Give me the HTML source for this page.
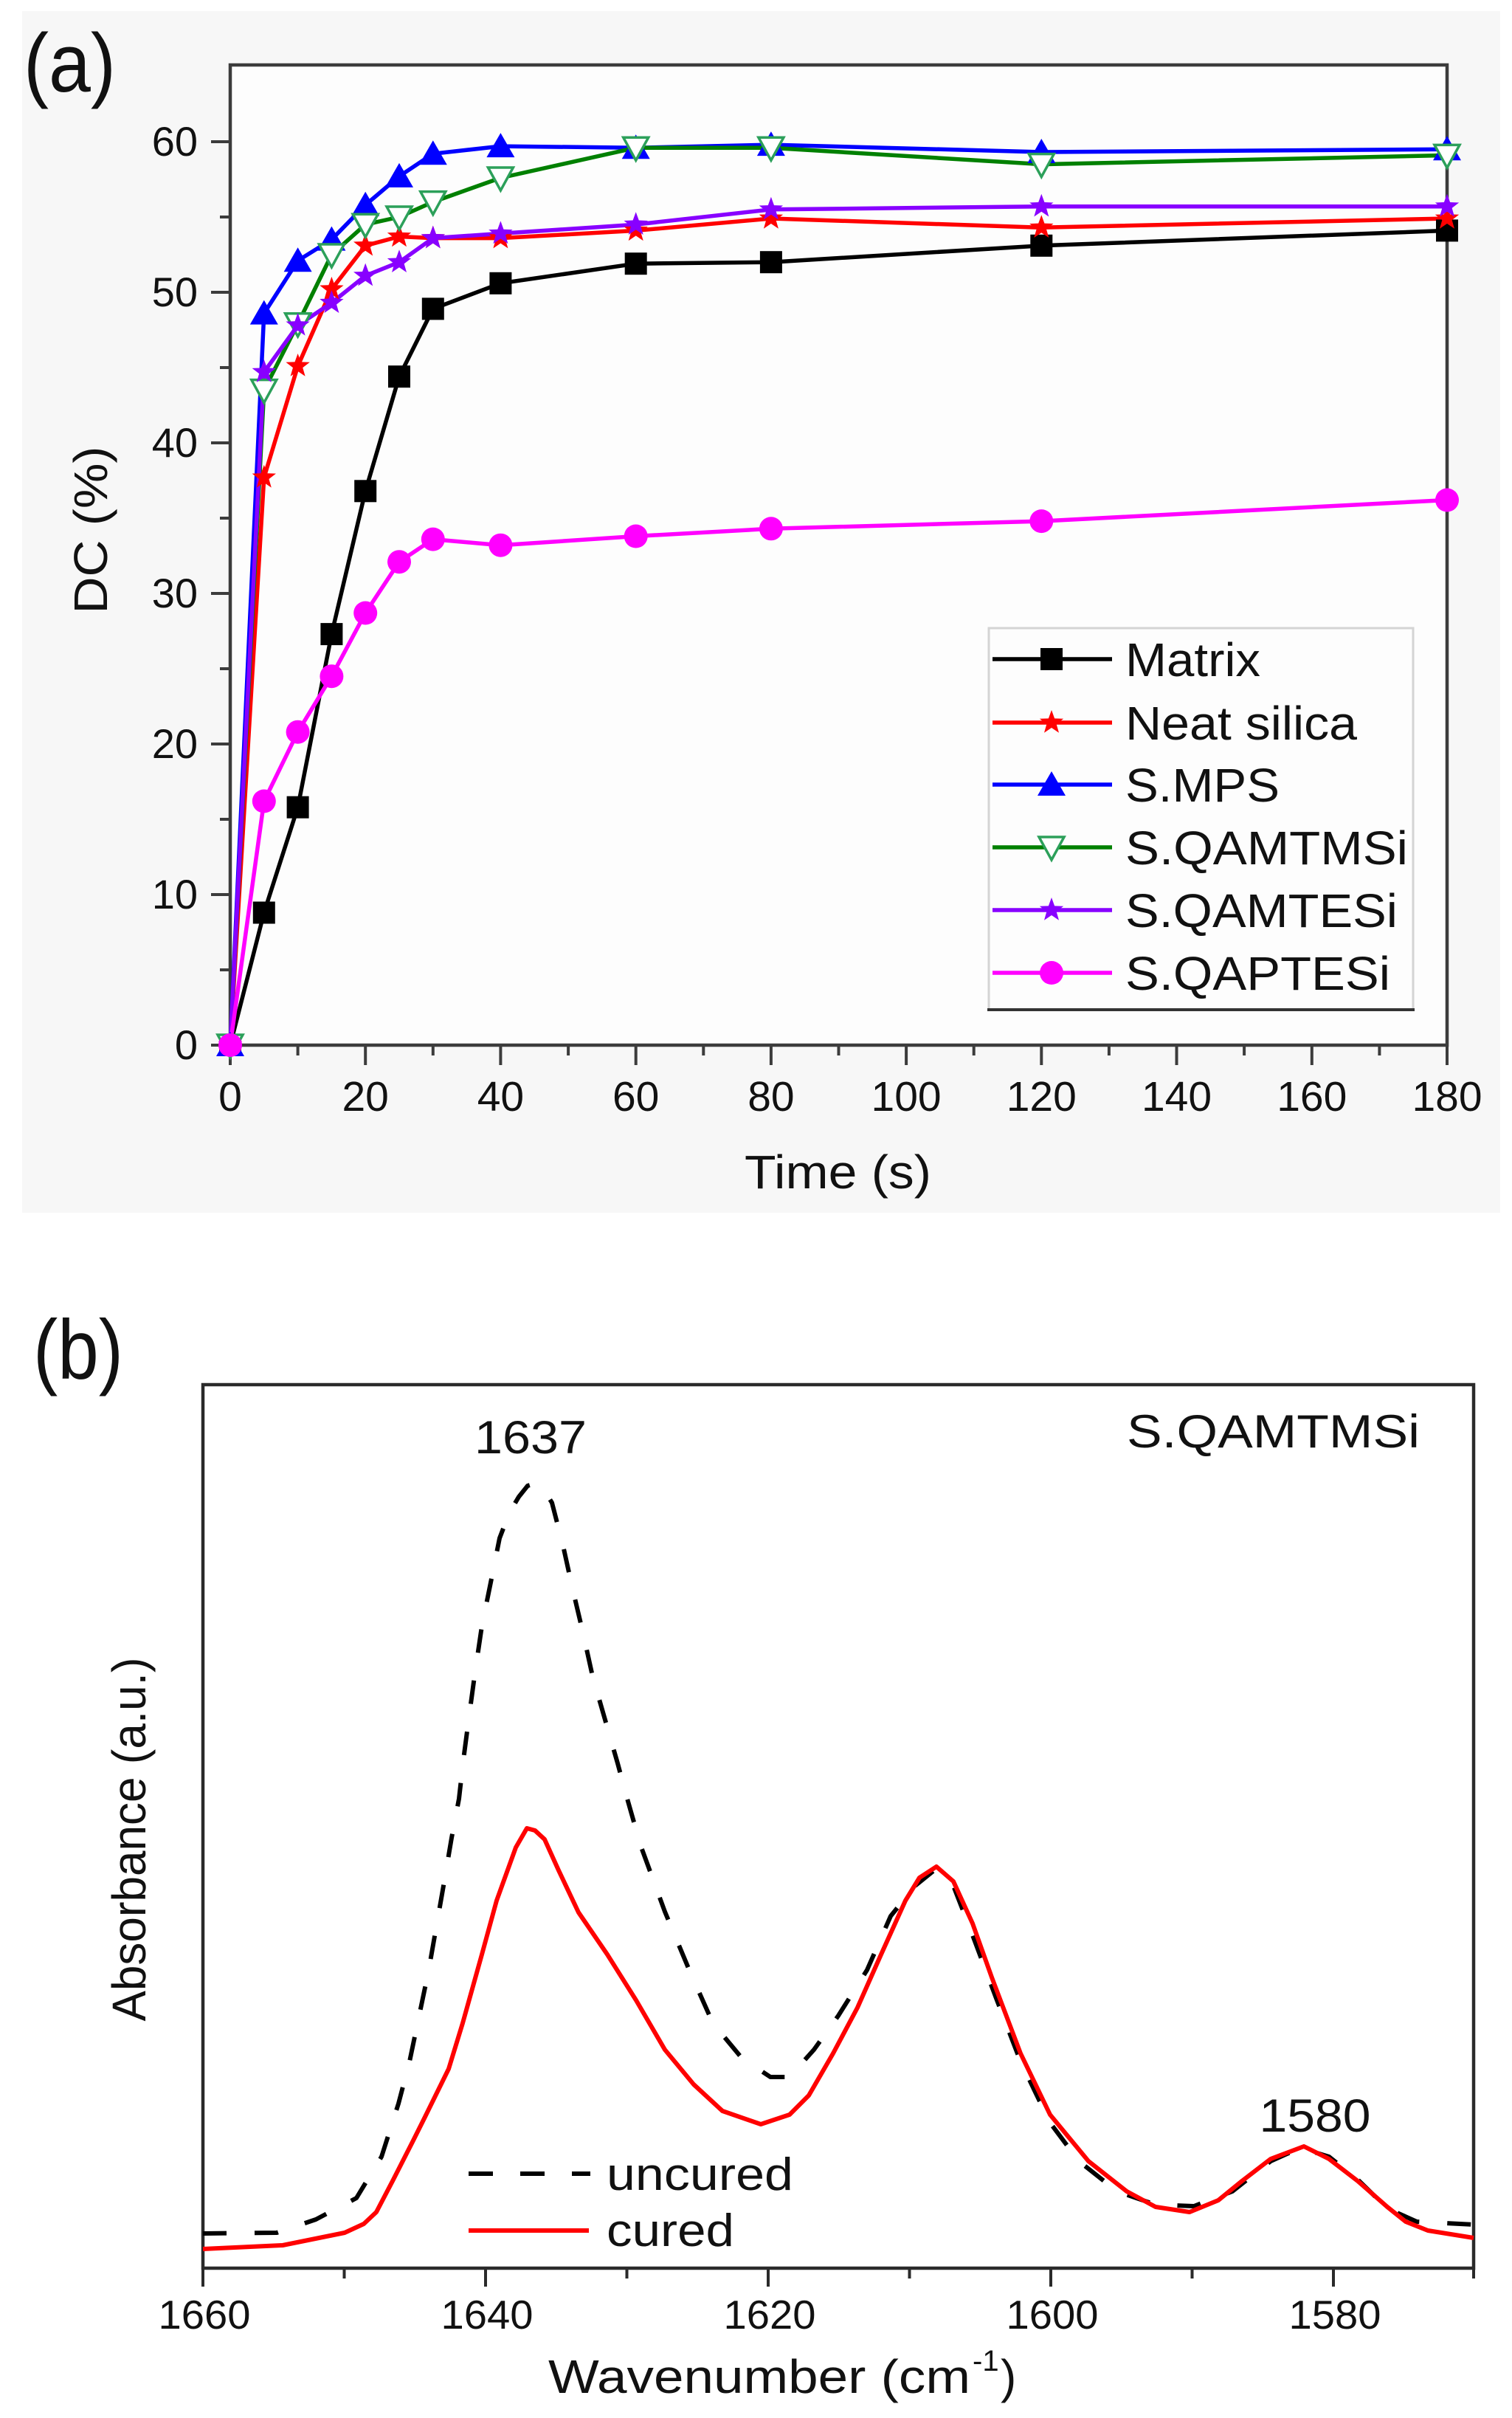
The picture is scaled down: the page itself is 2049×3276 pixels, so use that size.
<!DOCTYPE html>
<html>
<head>
<meta charset="utf-8">
<style>
html,body{margin:0;padding:0;background:#ffffff;}
svg{display:block;}
text{font-family:"Liberation Sans",Arial,sans-serif;fill:#111;}
</style>
</head>
<body>
<svg width="2049" height="3276" viewBox="0 0 2049 3276" xmlns="http://www.w3.org/2000/svg">
<defs>
  <rect id="sq" x="-15" y="-15" width="30" height="30"/>
  <polygon id="star" points="0,-17 4.11,-5.66 16.17,-5.25 6.66,2.16 9.99,13.75 0,7 -9.99,13.75 -6.66,2.16 -16.17,-5.25 -4.11,-5.66"/>
  <polygon id="tri" points="0,-18 19,15 -19,15"/>
  <polygon id="tdn" points="-17,-14 17,-14 0,17" fill="#ffffff" stroke="#2ca05a" stroke-width="3.5"/>
  <circle id="cir" r="16"/>
</defs>

<!-- ================= PANEL (a) ================= -->
<rect x="30" y="15" width="2003" height="1628" fill="#f7f7f7"/>
<rect x="312" y="88" width="1649" height="1328" fill="#fdfdfd"/>

<text x="32" y="124" font-size="112" textLength="125" lengthAdjust="spacingAndGlyphs">(a)</text>

<!-- legend box -->
<rect x="1340" y="851" width="575" height="517" fill="#fdfdfd" stroke="#d4d4d4" stroke-width="3"/>
<line x1="1338" y1="1368" x2="1917" y2="1368" stroke="#333" stroke-width="4"/>

<!-- frame -->
<rect x="312" y="88" width="1649" height="1328" fill="none" stroke="#3c3c3c" stroke-width="4.5"/>

<!-- y ticks -->
<g stroke="#3c3c3c" stroke-width="4">
  <line x1="286" y1="1416" x2="312" y2="1416"/>
  <line x1="286" y1="1212" x2="312" y2="1212"/>
  <line x1="286" y1="1008" x2="312" y2="1008"/>
  <line x1="286" y1="804" x2="312" y2="804"/>
  <line x1="286" y1="600" x2="312" y2="600"/>
  <line x1="286" y1="396" x2="312" y2="396"/>
  <line x1="286" y1="192" x2="312" y2="192"/>
  <line x1="298" y1="1314" x2="312" y2="1314"/>
  <line x1="298" y1="1110" x2="312" y2="1110"/>
  <line x1="298" y1="906" x2="312" y2="906"/>
  <line x1="298" y1="702" x2="312" y2="702"/>
  <line x1="298" y1="498" x2="312" y2="498"/>
  <line x1="298" y1="294" x2="312" y2="294"/>
  <!-- x ticks -->
  <line x1="312" y1="1416" x2="312" y2="1443"/>
  <line x1="495.2" y1="1416" x2="495.2" y2="1443"/>
  <line x1="678.4" y1="1416" x2="678.4" y2="1443"/>
  <line x1="861.7" y1="1416" x2="861.7" y2="1443"/>
  <line x1="1044.9" y1="1416" x2="1044.9" y2="1443"/>
  <line x1="1228.1" y1="1416" x2="1228.1" y2="1443"/>
  <line x1="1411.3" y1="1416" x2="1411.3" y2="1443"/>
  <line x1="1594.5" y1="1416" x2="1594.5" y2="1443"/>
  <line x1="1777.8" y1="1416" x2="1777.8" y2="1443"/>
  <line x1="1961" y1="1416" x2="1961" y2="1443"/>
  <line x1="403.6" y1="1416" x2="403.6" y2="1430"/>
  <line x1="586.8" y1="1416" x2="586.8" y2="1430"/>
  <line x1="770.1" y1="1416" x2="770.1" y2="1430"/>
  <line x1="953.3" y1="1416" x2="953.3" y2="1430"/>
  <line x1="1136.5" y1="1416" x2="1136.5" y2="1430"/>
  <line x1="1319.7" y1="1416" x2="1319.7" y2="1430"/>
  <line x1="1502.9" y1="1416" x2="1502.9" y2="1430"/>
  <line x1="1686.1" y1="1416" x2="1686.1" y2="1430"/>
  <line x1="1869.4" y1="1416" x2="1869.4" y2="1430"/>
</g>

<!-- y tick labels -->
<g font-size="56" text-anchor="end">
  <text x="268" y="1435">0</text>
  <text x="268" y="1231">10</text>
  <text x="268" y="1027">20</text>
  <text x="268" y="823">30</text>
  <text x="268" y="619">40</text>
  <text x="268" y="415">50</text>
  <text x="268" y="211">60</text>
</g>
<!-- x tick labels -->
<g font-size="57" text-anchor="middle">
  <text x="312" y="1505">0</text>
  <text x="495.2" y="1505">20</text>
  <text x="678.4" y="1505">40</text>
  <text x="861.7" y="1505">60</text>
  <text x="1044.9" y="1505">80</text>
  <text x="1228.1" y="1505">100</text>
  <text x="1411.3" y="1505">120</text>
  <text x="1594.5" y="1505">140</text>
  <text x="1777.8" y="1505">160</text>
  <text x="1961" y="1505">180</text>
</g>

<text x="1009" y="1610" font-size="64" textLength="253" lengthAdjust="spacingAndGlyphs">Time (s)</text>
<text x="145" y="718" font-size="64" text-anchor="middle" transform="rotate(-90 145 718)" textLength="227" lengthAdjust="spacingAndGlyphs">DC (%)</text>

<!-- series lines -->
<g fill="none" stroke-width="5.5" stroke-linejoin="round">
  <polyline stroke="#000000" points="312,1416 357.8,1236.5 403.6,1093.7 449.4,859.1 495.2,665.3 541,510.2 586.8,418.4 678.4,383.8 861.7,357.2 1044.9,355.2 1411.3,332.8 1961,312.4"/>
  <polyline stroke="#ff0000" points="312,1416 357.8,646.9 403.6,496 449.4,391.9 495.2,332.8 541,320.5 586.8,322.6 678.4,322.6 861.7,312.4 1044.9,296 1411.3,308.3 1961,296"/>
  <polyline stroke="#0000ff" points="312,1416 357.8,424.6 403.6,353.2 449.4,324.6 495.2,277.7 541,238.9 586.8,208.3 678.4,198.1 861.7,200.2 1044.9,196.1 1411.3,206 1961,202.2"/>
  <polyline stroke="#008000" points="312,1416 357.8,528.6 403.6,438.8 449.4,345 495.2,304.2 541,294 586.8,273.6 678.4,241 861.7,200.2 1044.9,200.2 1411.3,222.6 1961,210.4"/>
  <polyline stroke="#8800ff" points="312,1416 357.8,504.1 403.6,440.9 449.4,410.3 495.2,373.6 541,355.2 586.8,322.6 678.4,316.4 861.7,304.2 1044.9,283.8 1411.3,279.7 1961,279.7"/>
  <polyline stroke="#ff00ff" points="312,1416 357.8,1085.5 403.6,991.7 449.4,916.2 495.2,830.5 541,761.2 586.8,730.6 678.4,738.7 861.7,726.5 1044.9,716.3 1411.3,706.1 1961,677.5"/>
</g>

<!-- markers -->
<g fill="#000000">
  <use href="#sq" x="312" y="1416"/><use href="#sq" x="357.8" y="1236.5"/><use href="#sq" x="403.6" y="1093.7"/><use href="#sq" x="449.4" y="859.1"/><use href="#sq" x="495.2" y="665.3"/><use href="#sq" x="541" y="510.2"/><use href="#sq" x="586.8" y="418.4"/><use href="#sq" x="678.4" y="383.8"/><use href="#sq" x="861.7" y="357.2"/><use href="#sq" x="1044.9" y="355.2"/><use href="#sq" x="1411.3" y="332.8"/><use href="#sq" x="1961" y="312.4"/>
</g>
<g fill="#ff0000">
  <use href="#star" x="312" y="1416"/><use href="#star" x="357.8" y="646.9"/><use href="#star" x="403.6" y="496"/><use href="#star" x="449.4" y="391.9"/><use href="#star" x="495.2" y="332.8"/><use href="#star" x="541" y="320.5"/><use href="#star" x="586.8" y="322.6"/><use href="#star" x="678.4" y="322.6"/><use href="#star" x="861.7" y="312.4"/><use href="#star" x="1044.9" y="296"/><use href="#star" x="1411.3" y="308.3"/><use href="#star" x="1961" y="296"/>
</g>
<g fill="#0000ff">
  <use href="#tri" x="312" y="1416"/><use href="#tri" x="357.8" y="424.6"/><use href="#tri" x="403.6" y="353.2"/><use href="#tri" x="449.4" y="324.6"/><use href="#tri" x="495.2" y="277.7"/><use href="#tri" x="541" y="238.9"/><use href="#tri" x="586.8" y="208.3"/><use href="#tri" x="678.4" y="198.1"/><use href="#tri" x="861.7" y="200.2"/><use href="#tri" x="1044.9" y="196.1"/><use href="#tri" x="1411.3" y="206"/><use href="#tri" x="1961" y="202.2"/>
</g>
<g>
  <use href="#tdn" x="312" y="1416"/><use href="#tdn" x="357.8" y="528.6"/><use href="#tdn" x="403.6" y="438.8"/><use href="#tdn" x="449.4" y="345"/><use href="#tdn" x="495.2" y="304.2"/><use href="#tdn" x="541" y="294"/><use href="#tdn" x="586.8" y="273.6"/><use href="#tdn" x="678.4" y="241"/><use href="#tdn" x="861.7" y="200.2"/><use href="#tdn" x="1044.9" y="200.2"/><use href="#tdn" x="1411.3" y="222.6"/><use href="#tdn" x="1961" y="210.4"/>
</g>
<g fill="#8800ff">
  <use href="#star" x="312" y="1416"/><use href="#star" x="357.8" y="504.1"/><use href="#star" x="403.6" y="440.9"/><use href="#star" x="449.4" y="410.3"/><use href="#star" x="495.2" y="373.6"/><use href="#star" x="541" y="355.2"/><use href="#star" x="586.8" y="322.6"/><use href="#star" x="678.4" y="316.4"/><use href="#star" x="861.7" y="304.2"/><use href="#star" x="1044.9" y="283.8"/><use href="#star" x="1411.3" y="279.7"/><use href="#star" x="1961" y="279.7"/>
</g>
<g fill="#ff00ff">
  <use href="#cir" x="312" y="1416"/><use href="#cir" x="357.8" y="1085.5"/><use href="#cir" x="403.6" y="991.7"/><use href="#cir" x="449.4" y="916.2"/><use href="#cir" x="495.2" y="830.5"/><use href="#cir" x="541" y="761.2"/><use href="#cir" x="586.8" y="730.6"/><use href="#cir" x="678.4" y="738.7"/><use href="#cir" x="861.7" y="726.5"/><use href="#cir" x="1044.9" y="716.3"/><use href="#cir" x="1411.3" y="706.1"/><use href="#cir" x="1961" y="677.5"/>
</g>

<!-- legend entries -->
<g stroke-width="5.5">
  <line x1="1345" y1="893" x2="1507" y2="893" stroke="#000"/>
  <line x1="1345" y1="979" x2="1507" y2="979" stroke="#ff0000"/>
  <line x1="1345" y1="1063" x2="1507" y2="1063" stroke="#0000ff"/>
  <line x1="1345" y1="1148" x2="1507" y2="1148" stroke="#008000"/>
  <line x1="1345" y1="1233" x2="1507" y2="1233" stroke="#8800ff"/>
  <line x1="1345" y1="1318" x2="1507" y2="1318" stroke="#ff00ff"/>
</g>
<use href="#sq" x="1425" y="893" fill="#000"/>
<use href="#star" x="1425" y="979" fill="#ff0000"/>
<use href="#tri" x="1425" y="1063" fill="#0000ff"/>
<use href="#tdn" x="1425" y="1148"/>
<use href="#star" x="1425" y="1233" fill="#8800ff"/>
<use href="#cir" x="1425" y="1318" fill="#ff00ff"/>
<g font-size="64">
  <text x="1525" y="916" textLength="183" lengthAdjust="spacingAndGlyphs">Matrix</text>
  <text x="1525" y="1002" textLength="314" lengthAdjust="spacingAndGlyphs">Neat silica</text>
  <text x="1525" y="1086" textLength="209" lengthAdjust="spacingAndGlyphs">S.MPS</text>
  <text x="1525" y="1171" textLength="383" lengthAdjust="spacingAndGlyphs">S.QAMTMSi</text>
  <text x="1525" y="1256" textLength="369" lengthAdjust="spacingAndGlyphs">S.QAMTESi</text>
  <text x="1525" y="1341" textLength="359" lengthAdjust="spacingAndGlyphs">S.QAPTESi</text>
</g>

<!-- ================= PANEL (b) ================= -->
<text x="45" y="1868" font-size="114" textLength="122" lengthAdjust="spacingAndGlyphs">(b)</text>

<rect x="275" y="1876" width="1722" height="1197" fill="none" stroke="#2a2a2a" stroke-width="4.5"/>
<g stroke="#2a2a2a" stroke-width="4">
  <line x1="275" y1="3073" x2="275" y2="3098"/>
  <line x1="658" y1="3073" x2="658" y2="3098"/>
  <line x1="1041" y1="3073" x2="1041" y2="3098"/>
  <line x1="1424" y1="3073" x2="1424" y2="3098"/>
  <line x1="1807" y1="3073" x2="1807" y2="3098"/>
  <line x1="466.5" y1="3073" x2="466.5" y2="3087"/>
  <line x1="849.5" y1="3073" x2="849.5" y2="3087"/>
  <line x1="1232.5" y1="3073" x2="1232.5" y2="3087"/>
  <line x1="1615.5" y1="3073" x2="1615.5" y2="3087"/>
  <line x1="1997" y1="3073" x2="1997" y2="3087"/>
</g>
<g font-size="55" text-anchor="middle">
  <text x="277" y="3155" textLength="125" lengthAdjust="spacingAndGlyphs">1660</text>
  <text x="660" y="3155" textLength="125" lengthAdjust="spacingAndGlyphs">1640</text>
  <text x="1043" y="3155" textLength="125" lengthAdjust="spacingAndGlyphs">1620</text>
  <text x="1426" y="3155" textLength="125" lengthAdjust="spacingAndGlyphs">1600</text>
  <text x="1809" y="3155" textLength="125" lengthAdjust="spacingAndGlyphs">1580</text>
</g>

<!-- uncured (dashed) -->
<polyline fill="none" stroke="#000" stroke-width="6" stroke-dasharray="32 38" stroke-linejoin="round"
 points="275,3026 375,3025 428,3007 483,2978 517,2922 540,2850 555,2793 581,2669 601,2555 612,2490 622,2437 628,2384 636,2323 644,2264 653,2203 665,2144 677,2084 690,2050 703,2028 715,2013 725,2010 737,2018 748,2036 763,2094 776,2153 790,2212 803,2271 820,2330 837,2389 850,2437 868,2500 901,2590 934,2669 966,2741 1005,2788 1044,2814 1070,2814 1103,2777 1136,2731 1175,2669 1207,2596 1240,2555 1266,2534 1292,2555 1318,2622 1351,2710 1383,2793 1423,2876 1462,2928 1514,2969 1566,2987 1618,2989 1670,2969 1722,2928 1762,2910 1801,2922 1840,2953 1880,2992 1920,3010 1997,3014"/>
<!-- cured (red) -->
<polyline fill="none" stroke="#ff0000" stroke-width="6" stroke-linejoin="round"
 points="275,3047 383,3042 467,3025 493,3013 510,2997 533,2953 560,2900 575,2870 608,2803 627,2741 653,2648 673,2575 699,2503 714,2477 725,2480 738,2492 757,2534 784,2591 823,2648 862,2710 901,2777 940,2824 979,2860 1031,2878 1070,2865 1096,2839 1129,2782 1162,2720 1194,2648 1227,2575 1246,2544 1269,2529 1292,2549 1318,2606 1344,2679 1383,2782 1423,2865 1475,2928 1527,2969 1566,2990 1612,2997 1651,2981 1683,2955 1722,2925 1767,2908 1801,2925 1840,2955 1880,2990 1905,3010 1935,3022 1997,3032"/>

<!-- annotations -->
<text x="719" y="1969" font-size="63" text-anchor="middle" textLength="152" lengthAdjust="spacingAndGlyphs">1637</text>
<text x="1782" y="2888" font-size="63" text-anchor="middle" textLength="151" lengthAdjust="spacingAndGlyphs">1580</text>
<text x="1527" y="1961" font-size="63" textLength="397" lengthAdjust="spacingAndGlyphs">S.QAMTMSi</text>

<!-- legend b -->
<line x1="635" y1="2945" x2="800" y2="2945" stroke="#000" stroke-width="6" stroke-dasharray="33 37"/>
<line x1="635" y1="3022" x2="798" y2="3022" stroke="#ff0000" stroke-width="6"/>
<text x="822" y="2967" font-size="62" textLength="253" lengthAdjust="spacingAndGlyphs">uncured</text>
<text x="822" y="3043" font-size="62" textLength="173" lengthAdjust="spacingAndGlyphs">cured</text>

<!-- axis titles b -->
<text x="743" y="3242" font-size="64" textLength="572" lengthAdjust="spacingAndGlyphs">Wavenumber (cm</text>
<text x="1318" y="3212" font-size="40">-1</text>
<text x="1356" y="3242" font-size="64">)</text>
<text x="197" y="2492" font-size="64" text-anchor="middle" transform="rotate(-90 197 2492)" textLength="493" lengthAdjust="spacingAndGlyphs">Absorbance (a.u.)</text>
</svg>
</body>
</html>
